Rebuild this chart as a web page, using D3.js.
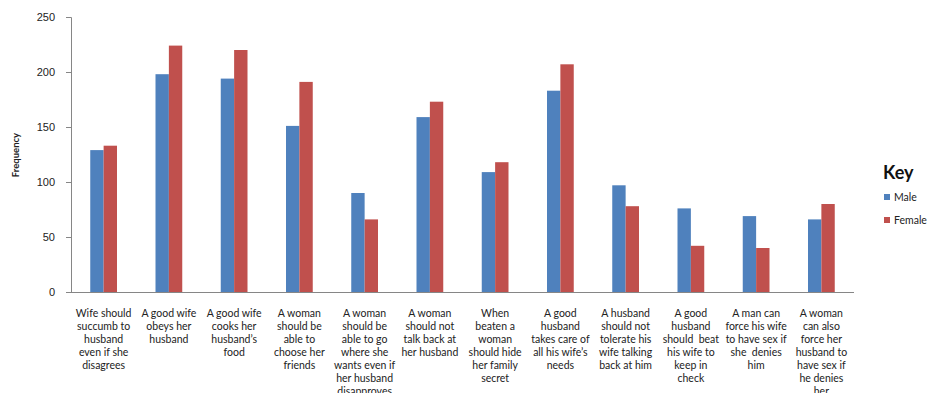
<!DOCTYPE html>
<html>
<head>
<meta charset="utf-8">
<script src="https://cdn.jsdelivr.net/npm/d3@7"></script>
<style>
  html, body { margin: 0; padding: 0; background: #fff; }
  svg { display: block; font-family: Lato, "Open Sans", sans-serif; }
</style>
</head>
<body>
<svg id="chart" width="929" height="393"></svg>
<script>
// Statements shown along the x axis (pre-wrapped lines)
const categories = [
  ["Wife should", "succumb to", "husband", "even if she", "disagrees"],
  ["A good wife", "obeys her", "husband"],
  ["A good wife", "cooks her", "husband\u2019s", "food"],
  ["A woman", "should be", "able to", "choose her", "friends"],
  ["A woman", "should be", "able to go", "where she", "wants even if", "her husband", "disapproves"],
  ["A woman", "should not", "talk back at", "her husband"],
  ["When", "beaten a", "woman", "should hide", "her family", "secret"],
  ["A good", "husband", "takes care of", "all his wife\u2019s", "needs"],
  ["A husband", "should not", "tolerate his", "wife talking", "back at him"],
  ["A good", "husband", "should  beat", "his wife to", "keep in", "check"],
  ["A man can", "force his wife", "to have sex if", "she  denies", "him"],
  ["A woman", "can also", "force her", "husband to", "have sex if", "he denies", "her"]
];
const seriesNames = ["Male", "Female"];
const maleValues   = [129, 198, 194, 151, 90, 159, 109, 183, 97, 76, 69, 66];
const femaleValues = [133, 224, 220, 191, 66, 173, 118, 207, 78, 42, 40, 80];
const yTicks = [0, 50, 100, 150, 200, 250];
const colors = ["#4F81BD", "#C0504D"];

const svg = d3.select("#chart");
const plot = { left: 71, right: 854, top: 17, bottom: 292 };

const x = d3.scaleBand()
  .domain(d3.range(categories.length))
  .range([plot.left, plot.right]);

const groupWidth = x.bandwidth() * 0.41;
const xs = d3.scaleBand()
  .domain(seriesNames)
  .range([(x.bandwidth() - groupWidth) / 2, (x.bandwidth() + groupWidth) / 2]);

const y = d3.scaleLinear().domain([0, 250]).range([plot.bottom, plot.top]);

// Bars
const series = [maleValues, femaleValues];
series.forEach((vals, si) => {
  svg.append("g")
    .selectAll("rect")
    .data(vals)
    .join("rect")
    .attr("x", (d, i) => x(i) + xs(seriesNames[si]))
    .attr("y", d => y(d))
    .attr("width", xs.bandwidth())
    .attr("height", d => y(0) - y(d))
    .attr("fill", colors[si]);
});

// Y axis
const yAxis = svg.append("g")
  .attr("transform", `translate(${plot.left},0)`)
  .call(d3.axisLeft(y).tickValues(yTicks).tickSize(5).tickPadding(11));
yAxis.select(".domain").attr("stroke", "#868686");
yAxis.selectAll(".tick line").attr("stroke", "#868686");
yAxis.selectAll(".tick text")
  .attr("font-size", 11).attr("fill", "#222");

// X axis baseline
svg.append("line")
  .attr("x1", plot.left - 3).attr("x2", plot.right)
  .attr("y1", y(0) + 0.5).attr("y2", y(0) + 0.5)
  .attr("stroke", "#868686");

// Y axis title
svg.append("text")
  .attr("transform", `translate(19,155) rotate(-90)`)
  .attr("text-anchor", "middle")
  .attr("font-size", 9.5)
  .attr("font-weight", "bold")
  .attr("fill", "#222")
  .text("Frequency");

// Category labels
const labels = svg.append("g");
categories.forEach((lines, i) => {
  const t = labels.append("text")
    .attr("text-anchor", "middle")
    .attr("font-size", 10.5)
    .attr("fill", "#222");
  lines.forEach((ln, j) => {
    t.append("tspan")
      .attr("x", x(i) + x.bandwidth() / 2)
      .attr("y", 317 + j * 13)
      .attr("xml:space", "preserve")
      .text(ln);
  });
});

// Legend
const legend = svg.append("g");
legend.append("text")
  .attr("x", 883).attr("y", 179)
  .attr("font-size", 18).attr("font-weight", "bold")
  .attr("fill", "#111")
  .text("Key");
seriesNames.forEach((name, i) => {
  legend.append("rect")
    .attr("x", 884).attr("y", 194 + i * 23)
    .attr("width", 6).attr("height", 6)
    .attr("fill", colors[i]);
  legend.append("text")
    .attr("x", 894).attr("y", 201 + i * 23)
    .attr("font-size", 10.5).attr("fill", "#222")
    .text(name);
});
</script>
</body>
</html>
